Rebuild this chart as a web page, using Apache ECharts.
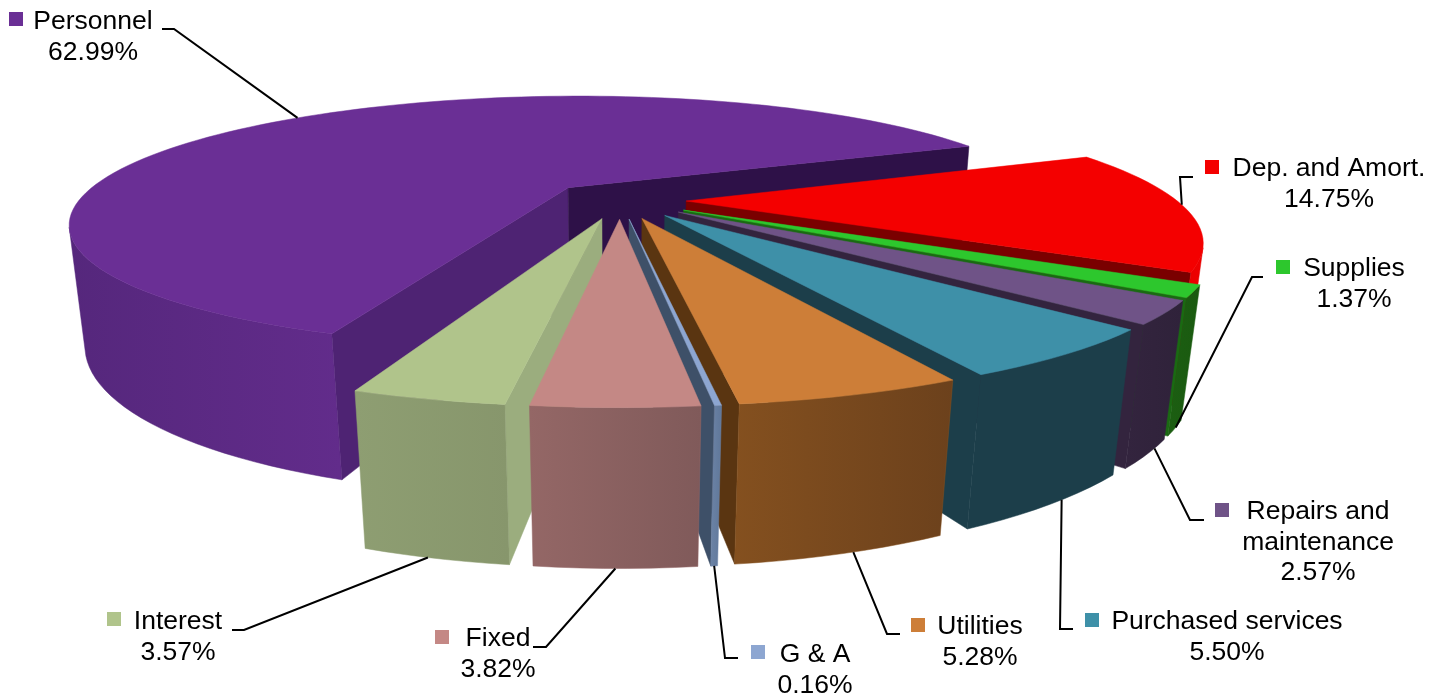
<!DOCTYPE html>
<html>
<head>
<meta charset="utf-8">
<style>html,body{margin:0;padding:0;background:#fff}#c{width:1445px;height:696px}</style>
<script src="https://cdn.jsdelivr.net/npm/echarts@6/dist/echarts.min.js"></script>
</head>
<body>
<div id="c"></div>
<script>
// ---- data ----
const categories = ['Personnel','Dep. and Amort.','Supplies','Repairs and\nmaintenance','Purchased services','Utilities','G & A','Fixed','Interest'];
const values = [62.99,14.75,1.37,2.57,5.50,5.28,0.16,3.82,3.57];
// first slice in clockwise order after the start angle
const clockwiseOrder = [1,2,3,4,5,6,7,8,0];
const explosions = [0.15,0.135,0.15,0.15,0.15,0.15,0.15,0.15,0.15];

// ---- colours ----
const topColors   = ['#6A2F95','#F40000','#2DC72D','#6F5387','#3E90A8','#CD7E38','#8DA6D1','#C48885','#B0C48B'];
const startWall   = ['#4E2373','#7A0000','#1A6A12','#36233F','#153F4C','#5A3511','#6E86AD','#8F6664','#9BAD7E'];
const endWall     = ['#2E1148','#7A0000','#1A6A12','#33243E','#1C3E4A','#5A3511','#3E5068','#8F6664','#9BAD7E'];
const outerLeft   = ['#55277C','#E00000','#1C5E12','#33243E','#1C3E4A','#84501F','#6C83A6','#946766','#8E9E72'];
const outerRight  = ['#622C8B','#F00000','#1A5A10','#2F223A','#1C3E4A','#6C411C','#5F7799','#805A5A','#87966C'];

// ---- 3D projection ----
const view = {cx:620, cy:200, R:490, A:123, T:120, p:0.277, q:0.028, startDeg:23.2};

// ---- label layout ----
const labelLayout = [
  {key:[9,12],     tx:93,   ty:22,  line:[[162,29],[174,29]],  f:0.51, h:0},
  {key:[1205,160], tx:1329, ty:169, line:[[1193,177],[1180,177]], f:0.47, h:0},
  {key:[1276,260], tx:1354, ty:269, line:[[1263,277],[1252,277]], f:0.45, h:1},
  {key:[1215,503], tx:1318, ty:512, line:[[1204,520],[1190,520]], f:0.3, h:1},
  {key:[1085,613], tx:1227, ty:622, line:[[1073,629],[1060,629]], f:0.42, h:1},
  {key:[911,618],  tx:980,  ty:627, line:[[900,634],[887,634]],   f:0.45, h:1},
  {key:[751,645],  tx:815,  ty:655, line:[[738,658],[725,658]],   f:0.5, h:1},
  {key:[435,630],  tx:498,  ty:639, line:[[533,647],[546,647]],   f:0.5, h:1},
  {key:[107,612],  tx:178,  ty:622, line:[[232,630],[244,630]],   f:0.55, h:1}
];
const fontSize = 26.5, lineGap = 30.3, keySize = 14;

// ---- slice model ----
const total = values.reduce((a,b)=>a+b,0);
const sliceAngles = [];
{
  let a = view.startDeg;
  clockwiseOrder.forEach(i=>{
    const sweep = values[i]/total*360;
    sliceAngles[i] = {from:a, to:a-sweep};
    a -= sweep;
  });
}
function project(X,Y,h){
  const d = 1 - view.p*Y + view.q*h;
  return [view.cx + view.R*X/d, view.cy + (view.A*Y + view.T*h)/d];
}
function offsets(i){
  const m = (sliceAngles[i].from+sliceAngles[i].to)/2*Math.PI/180;
  return {ox:explosions[i]*Math.cos(m), oy:-explosions[i]*Math.sin(m)};
}
function rimPoint(i,deg,h){
  const o = offsets(i), a = deg*Math.PI/180;
  return project(o.ox+Math.cos(a), o.oy-Math.sin(a), h);
}
function apexPoint(i,h){
  const o = offsets(i);
  return project(o.ox,o.oy,h);
}
function area(pts){
  let s=0;
  pts.forEach((p,k)=>{const n=pts[(k+1)%pts.length]; s+=p[0]*n[1]-n[0]*p[1];});
  return s/2;
}
function poly(points,fill,z2){
  return {type:'polygon',z2:z2,shape:{points:points},
    style:{fill:fill,stroke:fill.colorStops?fill.colorStops[0].color:fill,lineWidth:0.5},silent:true};
}
function renderSlice(params,api){
  const i = params.dataIndex;
  const s = sliceAngles[i];
  const steps = Math.max(2,Math.ceil((s.from-s.to)/2));
  const arcTop=[], arcBot=[];
  for(let k=0;k<=steps;k++){
    const d = s.from+(s.to-s.from)*k/steps;
    arcTop.push(rimPoint(i,d,0));
    arcBot.push(rimPoint(i,d,1));
  }
  const a0=apexPoint(i,0), a1=apexPoint(i,1);
  const o = offsets(i);
  const base = Math.round((o.oy + Math.sin(-((s.from+s.to)/2)*Math.PI/180)*0.6 + 3)*1000);
  const children = [];
  const wS=[a0,arcTop[0],arcBot[0],a1];
  const wE=[a0,arcTop[steps],arcBot[steps],a1];
  if(area(wS)<0) children.push(poly(wS,startWall[i],base));
  if(area(wE)>0) children.push(poly(wE,endWall[i],base));
  // outer wall: only the runs of the rim that face the viewer
  let runStart=-1;
  const flush=(endK)=>{
    if(runStart<0) return;
    const t=arcTop.slice(runStart,endK+1), b=arcBot.slice(runStart,endK+1).reverse();
    children.push(poly(t.concat(b),new echarts.graphic.LinearGradient(0,0,1,0,[
      {offset:0,color:outerLeft[i]},{offset:1,color:outerRight[i]}]),base+1));
    runStart=-1;
  };
  for(let k=0;k<steps;k++){
    const facing = area([arcTop[k],arcTop[k+1],arcBot[k+1],arcBot[k]])<0;
    if(facing && runStart<0) runStart=k;
    if(!facing) flush(k);
  }
  flush(steps);
  children.push(poly([a0].concat(arcTop),topColors[i],base+2));

  // leader line, legend key and label text
  const L = labelLayout[i];
  const end = rimPoint(i,s.from+(s.to-s.from)*L.f,L.h);
  children.push({type:'polyline',z2:9000,silent:true,
    shape:{points:L.line.concat([end])},style:{stroke:'#000',lineWidth:2,fill:null}});
  children.push({type:'rect',z2:9000,silent:true,
    shape:{x:L.key[0],y:L.key[1],width:keySize,height:keySize},style:{fill:topColors[i]}});
  const rows = categories[i].split('\n').concat([values[i].toFixed(2)+'%']);
  rows.forEach((t,k)=>children.push({type:'text',z2:9000,silent:true,
    style:{x:L.tx,y:L.ty+k*lineGap,text:t,fill:'#000',align:'center',verticalAlign:'middle',
      font:fontSize+'px "Liberation Sans", Arial, sans-serif'}}));
  return {type:'group',children:children};
}

const chart = echarts.init(document.getElementById('c'),null,{renderer:'canvas'});
chart.setOption({
  animation:false,
  backgroundColor:'#fff',
  series:[{
    type:'custom',
    coordinateSystem:'none',
    renderItem:renderSlice,
    data:values.map((v,i)=>({name:categories[i],value:[v]})),
    silent:true
  }]
});
</script>
</body>
</html>
